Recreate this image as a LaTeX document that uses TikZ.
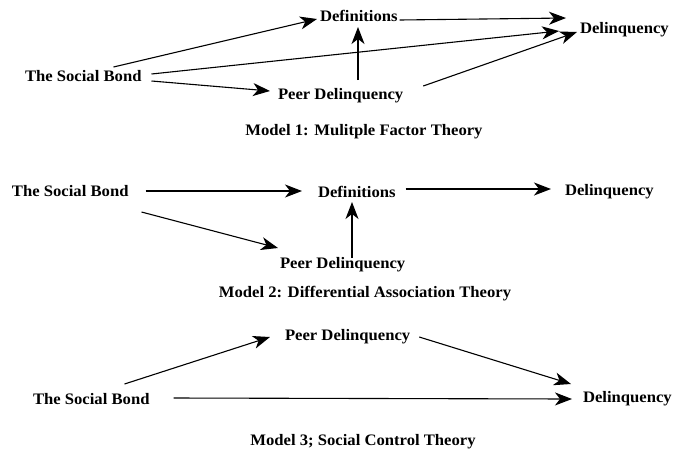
\documentclass[tikz,border=0pt]{standalone}
\usepackage{fontspec}
\setmainfont{Liberation Serif}[FakeStretch=1.04]
\usetikzlibrary{arrows.meta,calc}
\tikzset{
  lbl/.style={inner sep=0pt,outer sep=0pt,anchor=base west,font=\fontsize{16}{18}\selectfont\bfseries},
  captxt/.style={inner sep=0pt,outer sep=0pt,anchor=base,font=\fontsize{16}{18}\selectfont\bfseries},
  arr/.style={line width=1.1pt,-{Stealth[length=17pt,width=13pt,inset=5pt]}},
  thickarr/.style={arr,line width=1.7pt}
}
\begin{document}
\begin{tikzpicture}[x=1pt,y=-1pt]
\fill[white] (0,0) rectangle (674,448);
\useasboundingbox (0,0) rectangle (674,448);
% ---------- Model 1 ----------
\node[lbl] (sb1)   at (25,81)  {The Social Bond};
\node[lbl] (def1)  at (320,21) {Definitions};
\node[lbl] (peer1) at (278,99) {Peer Delinquency};
\node[lbl] (del1)  at (580,33) {Delinquency};
\node[captxt] (cap1)  at (364,135) {Model 1: Mulitple Factor Theory};
\draw[arr] ($(sb1.base east)+(-28,-14)$) -- ($(def1.base west)+(-3,-2)$);
\draw[arr] ($(sb1.base east)+(10,-7)$) -- ($(del1.base west)+(-21,-2)$);
\draw[arr] ($(sb1.base east)+(10,0)$) -- ($(peer1.base west)+(-8,-8)$);
\draw[arr] ($(peer1.base west)+(80,-19)$) -- ($(def1.base west)+(38,6)$);
\draw[arr] ($(def1.base east)+(2,-1)$) -- ($(del1.base west)+(-14,-15)$);
\draw[arr] ($(peer1.base east)+(20,-13)$) -- ($(del1.base west)+(-3,-1)$);
% ---------- Model 2 ----------
\node[lbl] (sb2)   at (12,196)  {The Social Bond};
\node[lbl] (def2)  at (318,197) {Definitions};
\node[lbl] (peer2) at (280,268) {Peer Delinquency};
\node[lbl] (del2)  at (565,195) {Delinquency};
\node[captxt] (cap2)  at (365,297) {Model 2: Differential Association Theory};
\draw[arr] ($(sb2.base east)+(17,-5)$) -- ($(def2.base west)+(-16,-6)$);
\draw[arr] ($(sb2.base east)+(13,16)$) -- ($(peer2.base west)+(-2,-20)$);
\draw[arr] ($(peer2.base west)+(72,-10)$) -- ($(def2.base west)+(34,5)$);
\draw[thickarr] ($(def2.base east)+(10,-8)$) -- ($(del2.base west)+(-14,-6)$);
% ---------- Model 3 ----------
\node[lbl] (sb3)   at (33,404)  {The Social Bond};
\node[lbl] (peer3) at (285,340) {Peer Delinquency};
\node[lbl] (del3)  at (583,402) {Delinquency};
\node[captxt] (cap3)  at (363,445) {Model 3; Social Control Theory};
\draw[arr] ($(sb3.base east)+(-25,-20)$) -- ($(peer3.base west)+(-15,-3)$);
\draw[arr] ($(peer3.base east)+(9,-3)$) -- ($(del3.base west)+(-12,-18)$);
\draw[arr] ($(sb3.base east)+(24,-6)$) -- ($(del3.base west)+(-11,-3)$);
\end{tikzpicture}
\end{document}
